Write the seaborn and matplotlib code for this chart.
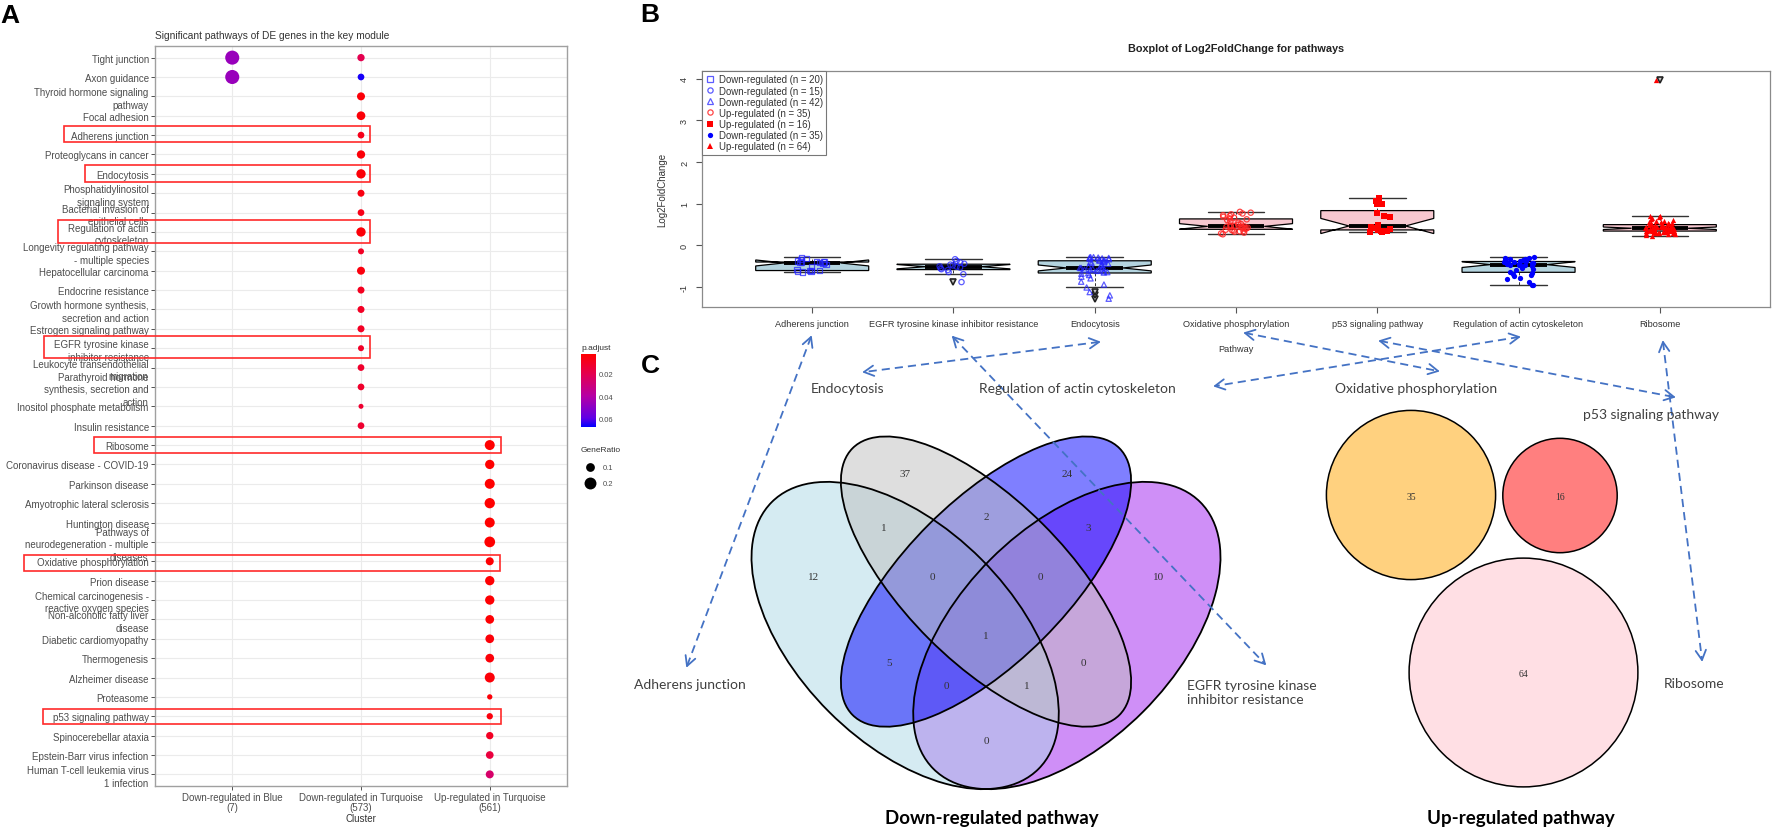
import numpy as np
import pandas as pd
import matplotlib
matplotlib.use("Agg")
import matplotlib.pyplot as plt
import seaborn as sns
from matplotlib.patches import Ellipse, Circle, Rectangle
from matplotlib.colors import LinearSegmentedColormap, Normalize
from matplotlib.markers import MarkerStyle
from matplotlib.lines import Line2D
from matplotlib.cm import ScalarMappable
import warnings
warnings.filterwarnings("ignore")

sns.set_theme(style="white")
plt.rcParams["font.family"] = ["Liberation Sans", "DejaVu Sans"]

# ======================= DATA =======================
# ---- Panel A: enrichment dot plot ----
clusters = ["Down-regulated in Blue\n(7)",
            "Down-regulated in Turquoise\n(573)",
            "Up-regulated in Turquoise\n(561)"]
pathway_labels = [
    "Tight junction", "Axon guidance", "Thyroid hormone signaling\npathway",
    "Focal adhesion", "Adherens junction", "Proteoglycans in cancer", "Endocytosis",
    "Phosphatidylinositol\nsignaling system", "Bacterial invasion of\nepithelial cells",
    "Regulation of actin\ncytoskeleton", "Longevity regulating pathway\n- multiple species",
    "Hepatocellular carcinoma", "Endocrine resistance",
    "Growth hormone synthesis,\nsecretion and action", "Estrogen signaling pathway",
    "EGFR tyrosine kinase\ninhibitor resistance", "Leukocyte transendothelial\nmigration",
    "Parathyroid hormone\nsynthesis, secretion and\naction", "Inositol phosphate metabolism",
    "Insulin resistance", "Ribosome", "Coronavirus disease - COVID-19", "Parkinson disease",
    "Amyotrophic lateral sclerosis", "Huntington disease",
    "Pathways of\nneurodegeneration - multiple\ndiseases", "Oxidative phosphorylation",
    "Prion disease", "Chemical carcinogenesis -\nreactive oxygen species",
    "Non-alcoholic fatty liver\ndisease", "Diabetic cardiomyopathy", "Thermogenesis",
    "Alzheimer disease", "Proteasome", "p53 signaling pathway", "Spinocerebellar ataxia",
    "Epstein-Barr virus infection", "Human T-cell leukemia virus\n1 infection"]

blue_down_pathways = pathway_labels[0:2]
blue_down_ratio = [0.286, 0.286]
blue_down_padj = [0.047, 0.047]

turq_down_pathways = pathway_labels[0:20]
turq_down_ratio = [0.064, 0.051, 0.080, 0.098, 0.051, 0.088, 0.115, 0.057, 0.051, 0.115,
                   0.037, 0.080, 0.057, 0.057, 0.057, 0.037, 0.051, 0.051, 0.020, 0.051]
turq_down_padj = [0.020, 0.066, 0.004, 0.004, 0.008, 0.004, 0.004, 0.006, 0.007, 0.004,
                  0.010, 0.005, 0.009, 0.010, 0.010, 0.011, 0.012, 0.012, 0.013, 0.013]

turq_up_pathways = pathway_labels[20:38]
turq_up_ratio = [0.135, 0.115, 0.135, 0.145, 0.135, 0.158, 0.080, 0.115, 0.115, 0.098,
                 0.098, 0.098, 0.135, 0.025, 0.043, 0.064, 0.073, 0.080]
turq_up_padj = [0.002, 0.002, 0.002, 0.002, 0.002, 0.002, 0.003, 0.003, 0.003, 0.003,
                0.004, 0.004, 0.004, 0.004, 0.005, 0.010, 0.016, 0.026]

padj_ticks = [0.02, 0.04, 0.06]
ratio_legend = [0.1, 0.2]

# ---- Panel B: log2 fold change per pathway ----
pathway_names = ["Adherens junction", "EGFR tyrosine kinase inhibitor resistance", "Endocytosis",
                 "Oxidative phosphorylation", "p53 signaling pathway",
                 "Regulation of actin cytoskeleton", "Ribosome"]
pathway_direction = ["Down", "Down", "Down", "Up", "Up", "Down", "Up"]

lfc_adherens = [-0.65, -0.64, -0.63, -0.62, -0.62, -0.61, -0.58, -0.52, -0.46, -0.44,
                -0.42, -0.42, -0.41, -0.41, -0.41, -0.40, -0.38, -0.35, -0.32, -0.29]
lfc_egfr = [-0.89, -0.70, -0.65, -0.60, -0.58, -0.56, -0.54, -0.52, -0.51, -0.49,
            -0.47, -0.45, -0.42, -0.38, -0.34]
lfc_endocytosis = [-1.29, -1.21, -1.13, -1.02, -0.95, -0.88, -0.80, -0.76, -0.72, -0.69,
                   -0.675, -0.66, -0.65, -0.63, -0.62, -0.61, -0.60, -0.59, -0.57, -0.56,
                   -0.55, -0.55, -0.53, -0.51, -0.49, -0.47, -0.45, -0.43, -0.41, -0.40,
                   -0.385, -0.375, -0.36, -0.35, -0.34, -0.33, -0.32, -0.31, -0.30, -0.30,
                   -0.29, -0.29]
lfc_oxphos = [0.26, 0.28, 0.30, 0.32, 0.33, 0.34, 0.35, 0.36, 0.37, 0.39, 0.40, 0.41,
              0.42, 0.43, 0.44, 0.44, 0.45, 0.45, 0.46, 0.47, 0.49, 0.51, 0.54, 0.57,
              0.60, 0.62, 0.64, 0.66, 0.68, 0.70, 0.72, 0.74, 0.76, 0.78, 0.80]
lfc_p53 = [0.31, 0.32, 0.33, 0.35, 0.37, 0.39, 0.41, 0.44, 0.48, 0.68, 0.71, 0.78,
           0.98, 0.99, 1.07, 1.13]
lfc_actin = [-0.97, -0.95, -0.88, -0.82, -0.78, -0.75, -0.72, -0.70, -0.67, -0.64,
             -0.60, -0.57, -0.54, -0.51, -0.49, -0.48, -0.47, -0.47, -0.46, -0.45,
             -0.44, -0.43, -0.42, -0.42, -0.41, -0.40, -0.39, -0.38, -0.37, -0.35,
             -0.34, -0.33, -0.31, -0.30, -0.29]
lfc_ribosome = [0.23, 0.25, 0.26, 0.27, 0.28, 0.29, 0.29, 0.30, 0.30, 0.31, 0.31, 0.32,
                0.32, 0.33, 0.33, 0.33, 0.34, 0.34, 0.35, 0.35, 0.36, 0.36, 0.37, 0.37,
                0.38, 0.38, 0.39, 0.39, 0.39, 0.40, 0.40, 0.40, 0.41, 0.41, 0.42, 0.42,
                0.43, 0.43, 0.44, 0.44, 0.45, 0.45, 0.46, 0.46, 0.47, 0.47, 0.48, 0.49,
                0.50, 0.51, 0.52, 0.53, 0.54, 0.55, 0.56, 0.57, 0.59, 0.61, 0.63, 0.65,
                0.67, 0.69, 0.71, 3.97]
lfc_values = [lfc_adherens, lfc_egfr, lfc_endocytosis, lfc_oxphos, lfc_p53, lfc_actin, lfc_ribosome]
lfc_ticks = [-1, 0, 1, 2, 3, 4]

# ---- Panel C: Venn diagrams ----
down_sets = ["Adherens junction", "Endocytosis", "Regulation of actin cytoskeleton",
             "EGFR tyrosine kinase\ninhibitor resistance"]
down_regions = ["A", "B", "C", "D", "AB", "BC", "CD", "ABC", "BCD", "ABCD",
                "AC", "BD", "ACD", "ABD", "AD"]
down_counts = [12, 37, 24, 10, 1, 2, 3, 0, 0, 1, 5, 0, 0, 1, 0]
up_sets = ["Oxidative phosphorylation", "p53 signaling pathway", "Ribosome"]
up_counts = [35, 16, 64]

# ======================= FIGURE =======================
W, H = 1772, 829
fig = plt.figure(figsize=(W / 100, H / 100), dpi=100)
fig.patch.set_facecolor("white")


def rect(x0, y0, x1, y1):
    return [x0 / W, 1 - y1 / H, (x1 - x0) / W, (y1 - y0) / H]


TXT_A = "#4D4D4D"

# ---------------- Panel A ----------------
rows = []
for ci, (names, ratios, padj) in enumerate([
        (blue_down_pathways, blue_down_ratio, blue_down_padj),
        (turq_down_pathways, turq_down_ratio, turq_down_padj),
        (turq_up_pathways, turq_up_ratio, turq_up_padj)]):
    for n, r, p in zip(names, ratios, padj):
        rows.append({"Cluster": ci, "Row": pathway_labels.index(n),
                     "GeneRatio": r, "p.adjust": p})
dfa = pd.DataFrame(rows)

cmap_p = LinearSegmentedColormap.from_list(
    "padj", [(0, "#FF0000"), (0.27, "#E4004F"), (0.58, "#B500A5"),
             (0.88, "#6000E6"), (1, "#0000FF")])
norm_p = Normalize(0.002, 0.068)
S_MIN, S_MAX = 6.2, 107.3
R_NORM = (0.0, 0.3)

axA = fig.add_axes(rect(155, 47, 567, 787))
axA.set_facecolor("white")
sns.scatterplot(data=dfa, x="Cluster", y="Row", hue="p.adjust", palette=cmap_p,
                hue_norm=norm_p, size="GeneRatio", sizes=(S_MIN, S_MAX),
                size_norm=R_NORM, linewidth=0, legend=False, ax=axA, zorder=3)
axA.set_xlim(-0.6, 2.6)
axA.set_ylim(37.6, -0.6)
axA.set_xticks(range(len(clusters)))
axA.set_xticklabels(clusters, fontsize=7, color=TXT_A, linespacing=1.08)
axA.set_yticks(range(len(pathway_labels)))
axA.set_yticklabels(pathway_labels, fontsize=7, color=TXT_A, linespacing=1.3)
axA.set_xlabel("")
axA.set_ylabel("")
axA.grid(True, color="#EBEBEB", lw=0.8)
axA.set_axisbelow(True)
axA.tick_params(length=3, width=0.6, color="#333333", pad=1.5, left=True, bottom=True)
axA.tick_params(axis="x", pad=1.0)
for s in axA.spines.values():
    s.set_color("#A0A0A0")
    s.set_linewidth(1.0)

# colour bar legend
cax = fig.add_axes(rect(581, 355, 596, 428))
cb = fig.colorbar(ScalarMappable(norm=norm_p, cmap=cmap_p), cax=cax, ticks=padj_ticks)
cax.invert_yaxis()
cb.outline.set_visible(False)
cax.tick_params(length=3, width=0.6, color="white", direction="in", pad=2,
                labelsize=5.5, labelcolor=TXT_A, right=True, left=True)
cax.set_yticklabels([f"{t:.2f}" for t in padj_ticks])

# ---------------- Panel B ----------------
dfb = pd.DataFrame({
    "Pathway": np.repeat(pathway_names, [len(v) for v in lfc_values]),
    "LFC": np.concatenate(lfc_values)})
box_palette = {n: ("#ADD8E6" if d == "Down" else "#FFC0CB")
               for n, d in zip(pathway_names, pathway_direction)}

axB = fig.add_axes(rect(702, 72, 1770, 308))
axB.set_facecolor("white")
sns.boxplot(data=dfb, x="Pathway", y="LFC", order=pathway_names, hue="Pathway",
            hue_order=pathway_names, palette=box_palette, legend=False, notch=True,
            width=0.8, linewidth=0.9, linecolor="black", whis=1.5, fliersize=5,
            flierprops=dict(marker="v", markerfacecolor="#C8C8C8",
                            markeredgecolor="#222222", markeredgewidth=1.2),
            medianprops=dict(color="black", linewidth=2.8),
            whiskerprops=dict(linestyle=(0, (3, 2)), linewidth=0.7, color="#333333"),
            capprops=dict(linewidth=1.0, color="#333333"),
            ax=axB)

BLUE_OPEN = (0.15, 0.15, 1.0, 0.75)
RED_OPEN = (1.0, 0.15, 0.15, 0.85)
strip_styles = [
    (MarkerStyle("s", fillstyle="none"), BLUE_OPEN),
    (MarkerStyle("o", fillstyle="none"), BLUE_OPEN),
    (MarkerStyle("^", fillstyle="none"), BLUE_OPEN),
    (MarkerStyle("o", fillstyle="none"), RED_OPEN),
    ("s", "#FF0000"),
    ("o", "#0000FF"),
    ("^", "#FF0000"),
]
np.random.seed(11)
for name, (mk, col) in zip(pathway_names, strip_styles):
    sub = dfb[dfb["Pathway"] == name]
    filled = not isinstance(mk, MarkerStyle)
    sns.stripplot(data=sub, x="Pathway", y="LFC", order=pathway_names, marker=mk,
                  color=col, size=3.8, jitter=0.11, linewidth=0 if filled else 0.9,
                  edgecolor=col, ax=axB, zorder=4)

axB.set_xlim(-0.78, 6.78)
axB.set_ylim(-1.49, 4.19)
axB.set_xlabel("")
axB.set_ylabel("")
axB.set_xticks(range(len(pathway_names)))
axB.set_xticklabels(pathway_names, fontsize=6.6, color="#333333")
axB.set_yticks(lfc_ticks)
axB.set_yticklabels([str(t) for t in lfc_ticks], rotation=90, va="center",
                    fontsize=6.6, color="#333333")
axB.tick_params(axis="both", length=4.3, width=0.8, color="#555555", left=True, bottom=True)
axB.tick_params(axis="x", pad=4)
axB.tick_params(axis="y", pad=5)
axB.grid(False)
for s in axB.spines.values():
    s.set_color("#8A8A8A")
    s.set_linewidth(0.9)

handles = []
for name, d, v, (mk, col) in zip(pathway_names, pathway_direction, lfc_values, strip_styles):
    filled = not isinstance(mk, MarkerStyle)
    m = mk if filled else mk.get_marker()
    handles.append(Line2D([], [], linestyle="", marker=m, markersize=3.8,
                          markerfacecolor=col if filled else "none",
                          markeredgecolor=col, markeredgewidth=0.9 if not filled else 0,
                          label=f"{d}-regulated (n = {len(v)})"))
leg = axB.legend(handles=handles, loc="upper left",
                 bbox_to_anchor=(0, 1), borderaxespad=0, frameon=True, fancybox=False,
                 framealpha=1, edgecolor="#777777", fontsize=6.9, handlelength=0.9,
                 handletextpad=0.5, borderpad=0.35, labelspacing=0.12)
leg.get_frame().set_linewidth(0.8)
for t in leg.get_texts():
    t.set_color("#333333")

# ---------------- overlay (pixel coordinates) ----------------
ov = fig.add_axes([0, 0, 1, 1], zorder=10)
ov.set_xlim(0, W)
ov.set_ylim(H, 0)
ov.patch.set_alpha(0)
ov.axis("off")

# panel letters
for letter, (lx, ly) in zip("ABC", [(10, 16), (650, 15), (650, 366)]):
    ov.text(lx, ly, letter, fontsize=19, fontweight="bold", ha="center", va="center",
            color="black")

# panel A texts
ov.text(155, 36, "Significant pathways of DE genes in the key module", fontsize=7.3,
        color="#333333", ha="left", va="center")
ov.text(361, 819, "Cluster", fontsize=7, color="#333333", ha="center", va="center")
ov.text(581, 348, "p.adjust", fontsize=6, color="#333333", ha="left", va="center")
ov.text(581, 451, "GeneRatio", fontsize=6, color="#333333", ha="left", va="center")
for r, yy in zip(ratio_legend, [468, 484]):
    ov.scatter([590], [yy], s=S_MIN + (S_MAX - S_MIN) * (r - R_NORM[0]) / (R_NORM[1] - R_NORM[0]),
               color="black", linewidth=0)
    ov.text(603, yy, f"{r:.1f}", fontsize=5.5, color=TXT_A, ha="left", va="center")

# red highlight boxes in panel A
highlight_boxes = [(64, 127, 370, 143), (85, 166, 370, 183), (58, 221, 370, 244),
                   (44, 337, 370, 359), (94, 438, 501, 454), (24, 556, 500, 572),
                   (43, 710, 501, 725)]
for x0, y0, x1, y1 in highlight_boxes:
    ov.add_patch(Rectangle((x0, y0), x1 - x0, y1 - y0, fill=False, edgecolor="#FF2A2A",
                           linewidth=1.2))

# panel B texts
ov.text(1236, 49, "Boxplot of Log2FoldChange for pathways", fontsize=7.8,
        fontweight="bold", color="#222222", ha="center", va="center")
ov.text(1236, 349, "Pathway", fontsize=6.6, color="#333333", ha="center", va="center")
ov.text(662, 190, "Log2FoldChange", fontsize=7, color="#333333", ha="center",
        va="center", rotation=90)

# ---- Venn (down-regulated) ----
VX, VY, VS = 986, 636.5, 539


def vpx(u, v):
    return VX + (u - 0.5) * VS, VY - (v - 0.47) * VS


# (set index, centre, semi-axes, angle, colour); fill order D, A, C, B
venn_ellipses = {0: ((0.35, 0.47), 0.35, 0.20, 45, "#ADD8E6"),
                 1: ((0.50, 0.57), 0.35, 0.15, 45, "#BEBEBE"),
                 2: ((0.50, 0.57), 0.35, 0.15, -45, "#0000FF"),
                 3: ((0.65, 0.47), 0.35, 0.20, -45, "#A020F0")}
fill_order = [3, 0, 2, 1]
for k in fill_order:
    (cu, cv), a, b, ang, col = venn_ellipses[k]
    ov.add_patch(Ellipse(vpx(cu, cv), 2 * a * VS, 2 * b * VS, angle=ang,
                         facecolor=col, alpha=0.5, edgecolor="none"))
for k in fill_order:
    (cu, cv), a, b, ang, col = venn_ellipses[k]
    ov.add_patch(Ellipse(vpx(cu, cv), 2 * a * VS, 2 * b * VS, angle=ang,
                         facecolor="none", edgecolor="black", linewidth=1.3))

region_pos = [(0.18, 0.58), (0.35, 0.77), (0.65, 0.77), (0.82, 0.58), (0.31, 0.67),
              (0.50, 0.69), (0.69, 0.67), (0.40, 0.58), (0.60, 0.58), (0.50, 0.47),
              (0.32, 0.42), (0.68, 0.42), (0.426, 0.378), (0.575, 0.378), (0.50, 0.276)]
for cnt, (u, v) in zip(down_counts, region_pos):
    px, py = vpx(u, v)
    ov.text(px, py, str(cnt), fontsize=8, family=["Liberation Serif", "DejaVu Serif"],
            color="#333333", ha="center", va="center")

# ---- Venn (up-regulated) : circle area proportional to count ----
K_R = 14.3
up_centers = [(1411, 496), (1560, 496.5), (1523.5, 673.5)]
up_colors = ["#FFA500", "#FF0000", "#FFC0CB"]
for cnt, (cx, cy), col in zip(up_counts, up_centers, up_colors):
    rr = K_R * np.sqrt(cnt)
    ov.add_patch(Circle((cx, cy), rr, facecolor=col, alpha=0.5, edgecolor="none"))
    ov.add_patch(Circle((cx, cy), rr, facecolor="none", edgecolor="black", linewidth=1.1))
    ov.text(cx, cy + 1, str(cnt), fontsize=7, family=["Liberation Serif", "DejaVu Serif"],
            color="#333333", ha="center", va="center")

# set labels
LAB = dict(fontsize=10, family=["Lato", "DejaVu Sans"], color="#404040", va="center")
ov.text(811, 389, down_sets[1], ha="left", **LAB)
ov.text(979, 389, down_sets[2], ha="left", **LAB)
ov.text(634, 685, down_sets[0], ha="left", **LAB)
ov.text(1187, 693, down_sets[3], ha="left", linespacing=1.2, **LAB)
ov.text(1335, 389, up_sets[0], ha="left", **LAB)
ov.text(1583, 415, up_sets[1], ha="left", **LAB)
ov.text(1664, 684, up_sets[2], ha="left", **LAB)

ov.text(992, 819, "Down-regulated pathway", fontsize=13.5, fontweight="bold",
        family=["Lato", "DejaVu Sans"], color="black", ha="center", va="center")
ov.text(1521, 819, "Up-regulated pathway", fontsize=13.5, fontweight="bold",
        family=["Lato", "DejaVu Sans"], color="black", ha="center", va="center")

# dashed double-headed connector arrows
ARW = "#4472C4"
connectors = [((811, 338), (687, 667)), ((1099, 343), (864, 373)),
              ((953, 338), (1265, 665)), ((1519, 338), (1215, 387)),
              ((1245, 334), (1438, 372)), ((1380, 342), (1674, 398)),
              ((1663, 343), (1702, 661))]


def connector(p1, p2):
    p1 = np.array(p1, float)
    p2 = np.array(p2, float)
    ov.plot([p1[0], p2[0]], [p1[1], p2[1]], color=ARW, lw=1.3, ls=(0, (4.5, 2.8)))
    for tip, other in ((p1, p2), (p2, p1)):
        d = other - tip
        d /= np.hypot(*d)
        for ang in (28, -28):
            rad = np.deg2rad(ang)
            rot = np.array([[np.cos(rad), -np.sin(rad)], [np.sin(rad), np.cos(rad)]])
            e = tip + 11 * rot @ d
            ov.plot([tip[0], e[0]], [tip[1], e[1]], color=ARW, lw=1.3,
                    solid_capstyle="round")


for p1, p2 in connectors:
    connector(p1, p2)

fig.savefig("out.png", dpi=100, facecolor="white")
